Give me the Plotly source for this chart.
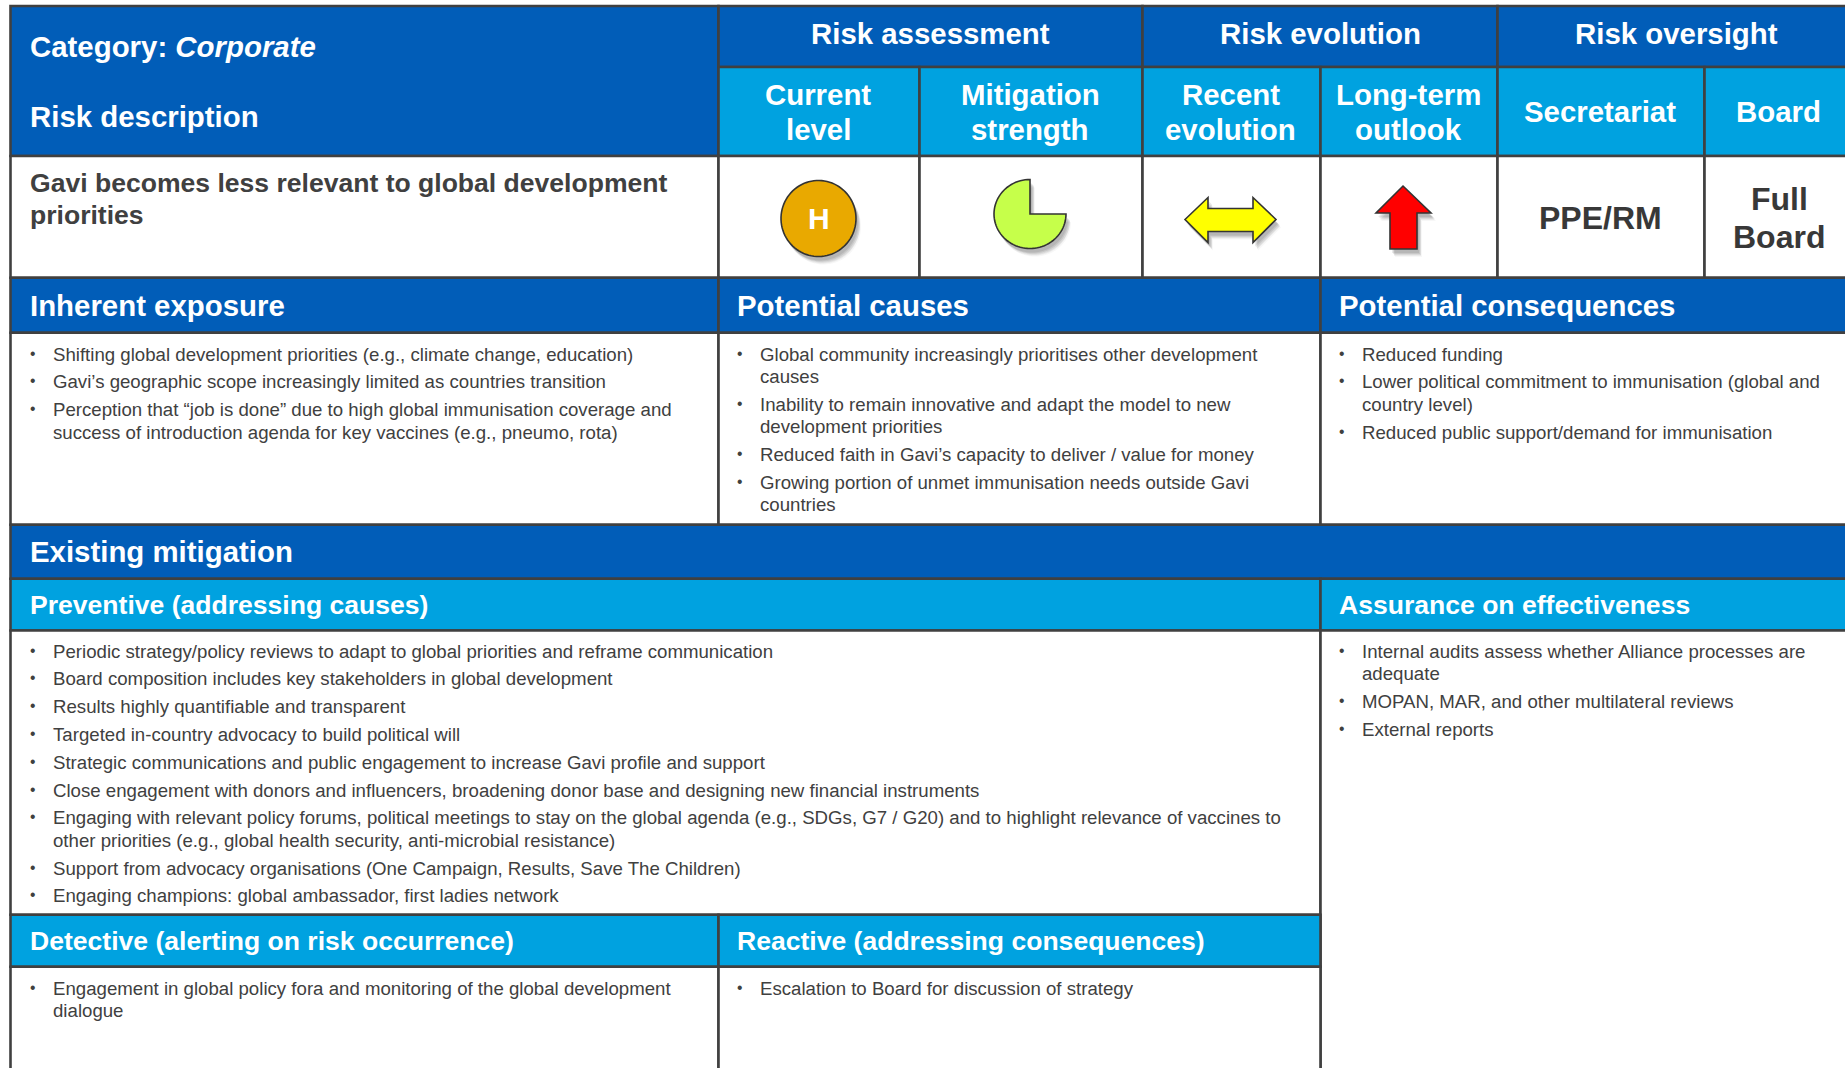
import numpy as np
import plotly.graph_objects as go

DARK = "#015DB8"
LIGHT = "#00A2E0"
LINE = "#404040"
TEXT = "#404040"
FONT = "Liberation Sans"
HEAD = 29.4
SUBHEAD = 26.55

top_groups = ["Risk assessment", "Risk evolution", "Risk oversight"]
sub_headers = [["Current", "level"], ["Mitigation", "strength"], ["Recent", "evolution"],
               ["Long-term", "outlook"], ["Secretariat"], ["Board"]]
risk_title = ["Gavi becomes less relevant to global development", "priorities"]
level_letter = "H"
secretariat_owner = ["PPE/RM"]
board_owner = ["Full", "Board"]

inherent_exposure = [
    ["Shifting global development priorities (e.g., climate change, education)"],
    ["Gavi’s geographic scope increasingly limited as countries transition"],
    ["Perception that “job is done” due to high global immunisation coverage and",
     "success of introduction agenda for key vaccines (e.g., pneumo, rota)"],
]
potential_causes = [
    ["Global community increasingly prioritises other development", "causes"],
    ["Inability to remain innovative and adapt the model to new", "development priorities"],
    ["Reduced faith in Gavi’s capacity to deliver / value for money"],
    ["Growing portion of unmet immunisation needs outside Gavi", "countries"],
]
potential_consequences = [
    ["Reduced funding"],
    ["Lower political commitment to immunisation (global and", "country level)"],
    ["Reduced public support/demand for immunisation"],
]
preventive = [
    ["Periodic strategy/policy reviews to adapt to global priorities and reframe communication"],
    ["Board composition includes key stakeholders in global development"],
    ["Results highly quantifiable and transparent"],
    ["Targeted in-country advocacy to build political will"],
    ["Strategic communications and public engagement to increase Gavi profile and support"],
    ["Close engagement with donors and influencers, broadening donor base and designing new financial instruments"],
    ["Engaging with relevant policy forums, political meetings to stay on the global agenda (e.g., SDGs, G7 / G20) and to highlight relevance of vaccines to",
     "other priorities (e.g., global health security, anti-microbial resistance)"],
    ["Support from advocacy organisations (One Campaign, Results, Save The Children)"],
    ["Engaging champions: global ambassador, first ladies network"],
]
assurance = [
    ["Internal audits assess whether Alliance processes are", "adequate"],
    ["MOPAN, MAR, and other multilateral reviews"],
    ["External reports"],
]
detective = [["Engagement in global policy fora and monitoring of the global development", "dialogue"]]
reactive = [["Escalation to Board for discussion of strategy"]]

shapes, notes = [], []


def rect(x0, y0, x1, y1, fill):
    shapes.append(dict(type="rect", x0=x0, y0=y0, x1=x1, y1=y1, fillcolor=fill,
                       line=dict(color=LINE, width=2.6)))


def label(x, y, text, size, color="white", anchor="left", bold=True):
    notes.append(dict(x=x, y=y, text=f"<b>{text}</b>" if bold else text, showarrow=False,
                      xanchor=anchor, yanchor="middle", align=anchor,
                      borderpad=0, borderwidth=0,
                      font=dict(family=FONT, size=size, color=color)))


def poly(xs, ys, fill, line_color=None, width=1.6):
    path = "M" + "L".join(f"{a:.2f},{b:.2f}" for a, b in zip(xs, ys)) + "Z"
    shapes.append(dict(type="path", path=path, fillcolor=fill,
                       line=dict(color=line_color or "rgba(0,0,0,0)", width=width if line_color else 0)))


def shadowed(xs, ys, fill):
    xs, ys = np.array(xs, float), np.array(ys, float)
    for dx, dy, a in [(5, 8, .04), (4, 7, .06), (4, 6, .08), (3, 5, .10), (2, 4, .10)]:
        poly(xs + dx, ys + dy, f"rgba(40,40,40,{a})")
    poly(xs, ys, fill, "#333333", 1.6)


def bullets(x_bullet, x_text, y_start, items, size=18.65):
    y = y_start
    for item in items:
        label(x_bullet, y - 1, "•", size - 3, TEXT, bold=False)
        for j, line in enumerate(item):
            if j:
                y += 22.4
            label(x_text, y, line, size, TEXT, bold=False)
        y += 27.8


X = [10.5, 718.5, 919.5, 1142.5, 1320.5, 1497.5, 1704.5, 1860]
Y_TOP, Y_SUB, Y_HEAD, Y_RISK, Y_BAND, Y_BODY = 6, 67, 156, 277.7, 332.7, 524.7
Y_EXIST, Y_PREV, Y_DET, Y_DET2, BOTTOM = 578.7, 630.5, 914.7, 966.7, 1080

# header blocks
rect(X[0], Y_TOP, X[1], Y_HEAD, DARK)
rect(X[1], Y_TOP, X[3], Y_SUB, DARK)
rect(X[3], Y_TOP, X[5], Y_SUB, DARK)
rect(X[5], Y_TOP, X[7], Y_SUB, DARK)
for i in range(6):
    rect(X[i + 1], Y_SUB, X[i + 2], Y_HEAD, LIGHT)
# risk row
rect(X[0], Y_HEAD, X[1], Y_RISK, "white")
for i in range(6):
    rect(X[i + 1], Y_HEAD, X[i + 2], Y_RISK, "white")
# exposure / causes / consequences
for a, b in [(X[0], X[1]), (X[1], X[4]), (X[4], X[7])]:
    rect(a, Y_RISK, b, Y_BAND, DARK)
    rect(a, Y_BAND, b, Y_BODY, "white")
# mitigation
rect(X[0], Y_BODY, X[7], Y_EXIST, DARK)
rect(X[0], Y_EXIST, X[4], Y_PREV, LIGHT)
rect(X[4], Y_EXIST, X[7], Y_PREV, LIGHT)
rect(X[0], Y_PREV, X[4], Y_DET, "white")
rect(X[4], Y_PREV, X[7], BOTTOM, "white")
rect(X[0], Y_DET, X[1], Y_DET2, LIGHT)
rect(X[1], Y_DET, X[4], Y_DET2, LIGHT)
rect(X[0], Y_DET2, X[1], BOTTOM, "white")
rect(X[1], Y_DET2, X[4], BOTTOM, "white")

# icons
t = np.linspace(0, 2 * np.pi, 90)
shadowed(818.5 + 37.5 * np.cos(t), 218.5 + 38 * np.sin(t), "#E9A900")
t = np.linspace(0, 1.5 * np.pi, 70)
shadowed(np.r_[1030, 1030 + 36 * np.cos(t)], np.r_[214, 214 + 34.5 * np.sin(t)], "#C6FF4A")
shadowed([1185, 1208, 1208, 1253, 1253, 1276, 1253, 1253, 1208, 1208],
         [219.5, 197.5, 208.5, 208.5, 197.5, 219.5, 242.5, 231.5, 231.5, 242.5], "#FFFF00")
shadowed([1403, 1431, 1417, 1417, 1390, 1390, 1376], [186, 213, 213, 249, 249, 213, 213], "#FF0000")

# texts
label(30, 46.5, "Category: <i>Corporate</i>", HEAD)
label(30, 116.5, "Risk description", HEAD)
for cx, g in zip([930, 1320, 1676], top_groups):
    label(cx, 33.5, g, HEAD, anchor="center")
sub_centers = [818.3, 1030, 1230.5, 1408.5, 1600, 1778.5]
for cx, h in zip(sub_centers, sub_headers):
    if len(h) == 2:
        label(cx, 94.5, h[0], HEAD, anchor="center")
        label(cx, 129.5, h[1], HEAD, anchor="center")
    else:
        label(cx, 111.5, h[0], HEAD, anchor="center")
label(30, 183, risk_title[0], SUBHEAD, TEXT)
label(30, 215, risk_title[1], SUBHEAD, TEXT)
label(818.5, 218.5, level_letter, 30, anchor="center")
label(1600, 218, secretariat_owner[0], 32, "#383838", "center")
label(1779, 199, board_owner[0], 32, "#383838", "center")
label(1779, 237, board_owner[1], 32, "#383838", "center")

label(30, 305.5, "Inherent exposure", HEAD)
label(737, 305.5, "Potential causes", HEAD)
label(1339, 305.5, "Potential consequences", HEAD)
label(30, 551.7, "Existing mitigation", HEAD)
label(30, 605.3, "Preventive (addressing causes)", SUBHEAD)
label(1339, 605.3, "Assurance on effectiveness", SUBHEAD)
label(30, 941.3, "Detective (alerting on risk occurrence)", SUBHEAD)
label(737, 941.3, "Reactive (addressing consequences)", SUBHEAD)

bullets(30, 52.5, 354, inherent_exposure)
bullets(737, 760, 354, potential_causes)
bullets(1339, 1362, 354, potential_consequences)
bullets(30, 52.5, 651, preventive)
bullets(1339, 1362, 651, assurance)
bullets(30, 52.5, 988.5, detective)
bullets(737, 760, 988.5, reactive)

fig = go.Figure()
fig.update_layout(
    width=1845, height=1068, autosize=False,
    margin=dict(l=0, r=0, t=0, b=0),
    paper_bgcolor="white", plot_bgcolor="white",
    xaxis=dict(range=[0, 1845], visible=False, fixedrange=True),
    yaxis=dict(range=[1068, 0], visible=False, fixedrange=True),
    shapes=shapes, annotations=notes, showlegend=False,
)
fig.write_html("out.html", config=dict(displayModeBar=False),
               post_script="document.body.style.margin='0';document.documentElement.style.overflow='hidden';")
